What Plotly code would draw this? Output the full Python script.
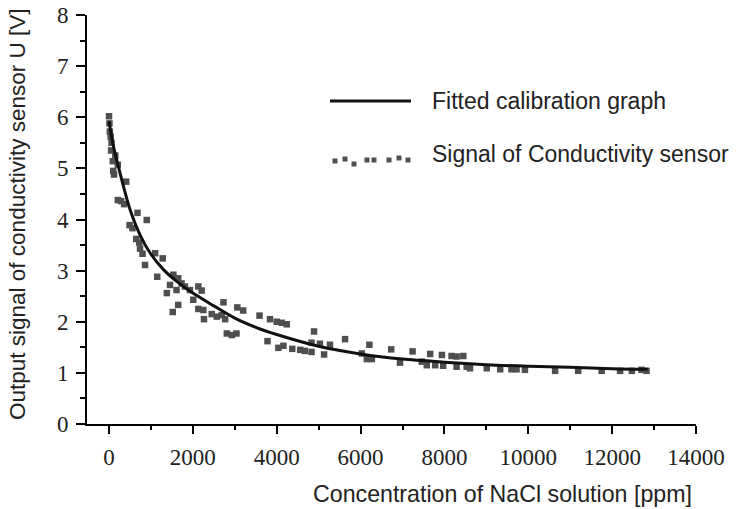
import plotly.graph_objects as go

# ---- data ----
conc_fit = [0, 100, 250, 500, 750, 1000, 1300, 1600, 2000, 2500, 3000, 3500, 4000,
            5000, 6000, 7000, 8000, 9000, 10000, 11000, 12000, 12850]
u_fit = [5.92, 5.45, 4.95, 4.2, 3.68, 3.32, 3.02, 2.80, 2.56, 2.31, 2.07, 1.89, 1.75,
         1.52, 1.37, 1.27, 1.21, 1.16, 1.13, 1.11, 1.08, 1.07]

conc_meas = [0, 10, 20, 40, 60, 50, 150, 90, 210, 120, 100, 410, 210, 290, 360, 680, 900,
             490, 560, 650, 720, 740, 800, 860, 1100, 1280, 1150, 1535, 1650, 1730, 1455,
             1610, 1380, 1810, 1930, 2130, 2210, 2010, 1650, 1520, 2130, 2250, 2265, 2730,
             3060, 3200, 2450, 2570, 2690, 2770, 2810, 2930, 3040, 3590, 3840, 4000, 4120,
             4240, 3780, 4040, 4160, 4370, 4560, 4670, 4830, 4890, 4830, 5030, 5270, 5130,
             5630, 6030, 6150, 6270, 6210, 6730, 6940, 7240, 7460, 7580, 7660, 7780, 7940,
             7970, 8170, 8290, 8290, 8450, 8530, 8610, 9010, 9330, 9600, 9720, 9920, 10640,
             11190, 11750, 12190, 12470, 12700, 12820]
u_meas = [6.02, 5.88, 5.72, 5.62, 5.5, 5.35, 5.25, 5.14, 5.07, 4.88, 4.95, 4.74, 4.38, 4.36,
          4.3, 4.13, 3.99, 3.89, 3.83, 3.62, 3.55, 3.43, 3.33, 3.11, 3.34, 3.24, 2.88, 2.92,
          2.85, 2.75, 2.72, 2.62, 2.56, 2.69, 2.62, 2.69, 2.61, 2.43, 2.33, 2.19, 2.25, 2.23,
          2.05, 2.38, 2.28, 2.22, 2.15, 2.1, 2.13, 2.05, 1.77, 1.74, 1.77, 2.12, 2.05, 2.0,
          1.98, 1.95, 1.62, 1.49, 1.53, 1.47, 1.45, 1.43, 1.41, 1.81, 1.59, 1.57, 1.55, 1.36,
          1.66, 1.38, 1.27, 1.27, 1.55, 1.46, 1.2, 1.42, 1.22, 1.15, 1.37, 1.15, 1.35, 1.14,
          1.33, 1.32, 1.12, 1.33, 1.12, 1.09, 1.09, 1.07, 1.07, 1.07, 1.06, 1.04, 1.04, 1.04,
          1.04, 1.04, 1.06, 1.04]

x_tickvals = [0, 2000, 4000, 6000, 8000, 10000, 12000, 14000]
x_ticktext = ["0", "2000", "4000", "6000", "8000", "10000", "12000", "14000"]
y_tickvals = [0, 1, 2, 3, 4, 5, 6, 7, 8]
y_ticktext = ["0", "1", "2", "3", "4", "5", "6", "7", "8"]

legend_labels = ["Fitted calibration graph", "Signal of Conductivity sensor"]
x_title = "Concentration of NaCl solution [ppm]"
y_title = "Output signal of conductivity sensor U [V]"

# ---- layout geometry (pixels) ----
W, H = 739, 509
L, R, T, B = 87, 43, 15, 85
PW, PH = W - L - R, H - T - B


def px2x(px):
    return (px - L) / PW


def py2y(py):
    return (H - B - py) / PH


SANS = "Liberation Sans, Arial, sans-serif"
SERIF = "Liberation Serif, Times New Roman, serif"

fig = go.Figure()
fig.add_trace(go.Scatter(
    x=conc_meas, y=u_meas, mode="markers", name=legend_labels[1],
    marker=dict(symbol="square", size=6.5, color="#4f4f4f", line=dict(width=0)),
    showlegend=False))
fig.add_trace(go.Scatter(
    x=conc_fit, y=u_fit, mode="lines", name=legend_labels[0],
    line=dict(color="#111111", width=3, shape="spline", smoothing=0.8),
    showlegend=False))

# manual legend (decoration)
shapes = [dict(type="line", xref="paper", yref="paper",
               x0=px2x(330), x1=px2x(411), y0=py2y(101), y1=py2y(101),
               line=dict(color="#111111", width=3))]
leg_sq = [(335, 161), (345, 159), (354, 164), (367, 160), (374, 160), (389, 160), (399, 158), (408, 160)]
for cx, cy in leg_sq:
    shapes.append(dict(type="rect", xref="paper", yref="paper",
                       x0=px2x(cx - 2.5), x1=px2x(cx + 2.5), y0=py2y(cy + 2.5), y1=py2y(cy - 2.5),
                       fillcolor="#4f4f4f", line=dict(width=0)))

annotations = [
    dict(text=legend_labels[0], xref="paper", yref="paper", x=px2x(430), y=py2y(101),
         xanchor="left", yanchor="middle", showarrow=False,
         font=dict(family=SANS, size=23, color="#222222")),
    dict(text=legend_labels[1], xref="paper", yref="paper", x=px2x(430), y=py2y(154),
         xanchor="left", yanchor="middle", showarrow=False,
         font=dict(family=SANS, size=23, color="#222222")),
    dict(text=x_title, xref="paper", yref="paper", x=px2x(694), y=py2y(494),
         xanchor="right", yanchor="middle", showarrow=False,
         font=dict(family=SANS, size=23.2, color="#222222")),
    dict(text=y_title, xref="paper", yref="paper", x=px2x(17), y=py2y(215),
         xanchor="center", yanchor="middle", showarrow=False, textangle=-90,
         font=dict(family=SANS, size=22.5, color="#222222")),
]

fig.update_layout(
    width=W, height=H,
    margin=dict(l=L, r=R, t=T, b=B, pad=0, autoexpand=False),
    paper_bgcolor="white", plot_bgcolor="white",
    shapes=shapes, annotations=annotations,
    showlegend=False,
)
fig.update_xaxes(
    range=[-525, 14000], showgrid=False, zeroline=False, automargin=False,
    showline=True, linecolor="black", linewidth=2,
    tickmode="array", tickvals=x_tickvals, ticktext=x_ticktext,
    ticks="outside", ticklen=8, tickwidth=1.5, tickcolor="black",
    minor=dict(dtick=1000, tick0=0, ticks="outside", ticklen=4, tickwidth=1.5, tickcolor="black"),
    tickfont=dict(family=SERIF, size=23, color="#222222"),
    ticklabelstandoff=3,
)
fig.update_yaxes(
    range=[0, 8], showgrid=False, zeroline=False, automargin=False,
    showline=True, linecolor="black", linewidth=2,
    tickmode="array", tickvals=y_tickvals, ticktext=y_ticktext,
    ticks="outside", ticklen=9, tickwidth=1.5, tickcolor="black",
    minor=dict(dtick=0.5, tick0=0, ticks="outside", ticklen=5, tickwidth=1.5, tickcolor="black"),
    tickfont=dict(family=SERIF, size=23, color="#222222"),
    ticklabelstandoff=3,
)

fig.write_html("out.html", config={"displayModeBar": False},
               post_script="document.body.style.margin='0';document.body.style.padding='0';")
